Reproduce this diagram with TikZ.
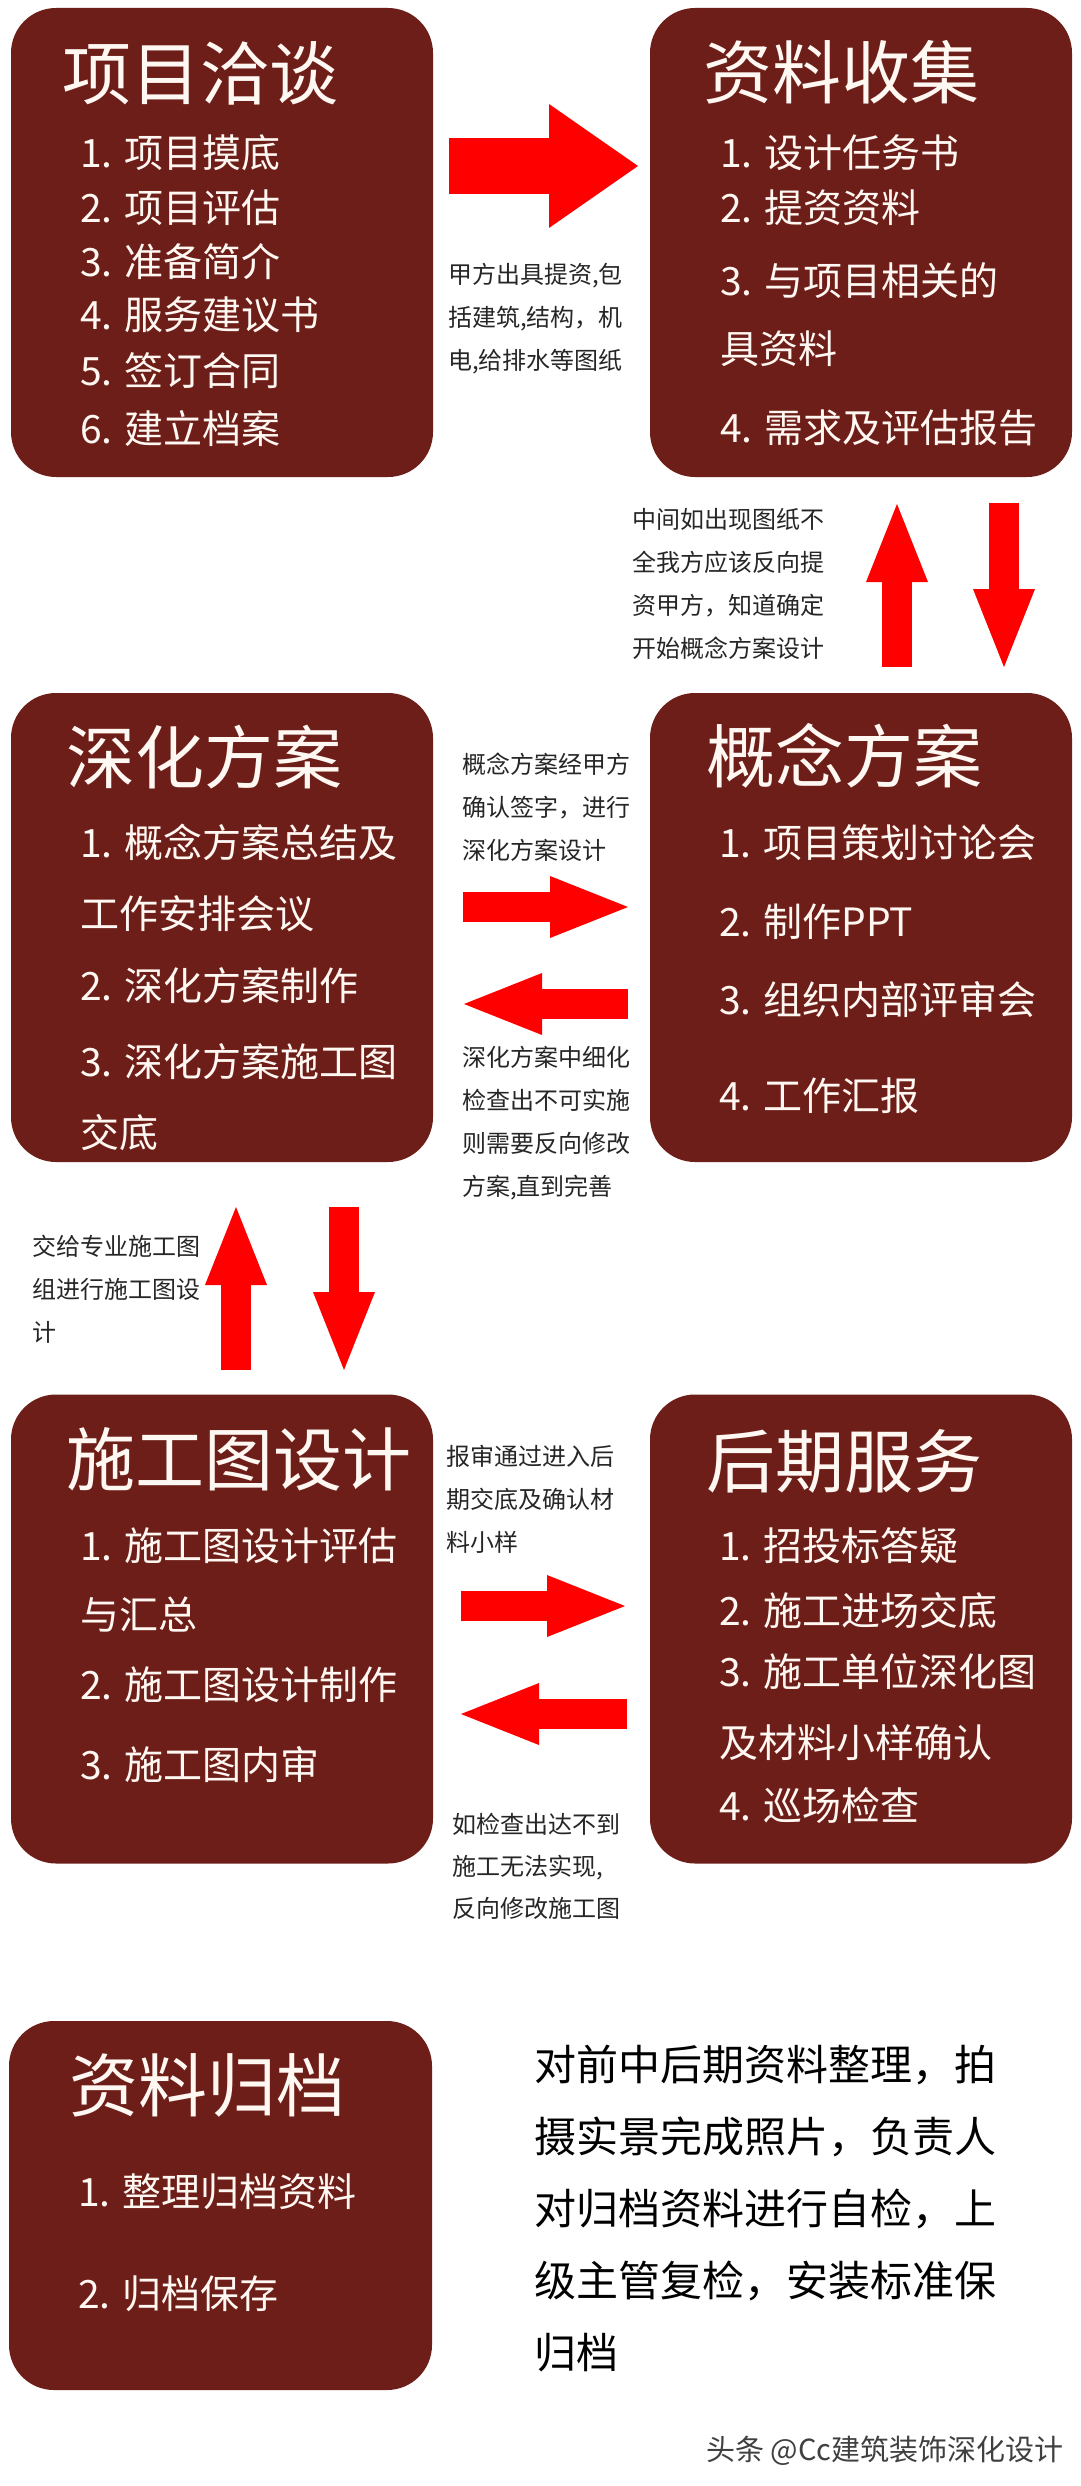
\documentclass[tikz,border=0pt]{standalone}
\usepackage{fontspec}
\setmainfont{Noto Sans CJK SC}
\usepackage{tikz}
\usetikzlibrary{arrows.meta}
\definecolor{boxred}{RGB}{110,30,24}
\definecolor{boxtext}{RGB}{255,247,242}

\begin{document}
\begin{tikzpicture}[x=1pt,y=-1pt,
  stage/.style={fill=boxred, rounded corners=45pt, minimum width=422pt, minimum height=469pt, inner sep=0pt},
  stagetitle/.style={anchor=west, inner sep=0pt, text height=55.2pt, text depth=3.5pt, text=boxtext, font=\fontsize{69}{69}\selectfont},
  stageitem/.style={anchor=west, inner sep=0pt, text height=31.2pt, text depth=2pt, text=boxtext, font=\fontsize{39}{39}\selectfont},
  note/.style={anchor=north west, inner sep=0pt, align=left, text=black!85, font=\fontsize{24}{43}\selectfont},
  flow/.style={red, line width=30pt, -{Triangle[length=78pt, width=62pt, line width=0pt]}}
]
  \fill[white] (0,0) rectangle (1080,2486);
  \useasboundingbox (0,0) rectangle (1080,2486);

  \node[stage] (xmqt) at (222,242.5) {};
  \node[stage] (zlsj) at (861,242.5) {};
  \node[stage] (shfa) at (222,927.5) {};
  \node[stage] (gnfa) at (861,927.5) {};
  \node[stage] (sgtsj) at (222,1629) {};
  \node[stage] (hqfw) at (861,1629) {};
  \node[stage, minimum width=423pt, minimum height=369pt] (zlgd) at (220.5,2205.5) {};

  \node[stagetitle] (xmqt-t) at (62,74) {项目洽谈};
  \foreach \y/\t [count=\i] in {153/1. 项目摸底, 208/2. 项目评估, 262/3. 准备简介, 315/4. 服务建议书, 371/5. 签订合同, 429/6. 建立档案}
    \node[stageitem] (xmqt-\i) at (80,\y) {\t};

  \node[stagetitle] (zlsj-t) at (703,73) {资料收集};
  \foreach \y/\t [count=\i] in {153/1. 设计任务书, 208/2. 提资资料, 281/3. 与项目相关的, 349/具资料, 428/4. 需求及评估报告}
    \node[stageitem] (zlsj-\i) at (720,\y) {\t};

  \node[stagetitle] (shfa-t) at (66,758) {深化方案};
  \foreach \y/\t [count=\i] in {843/1. 概念方案总结及, 914/工作安排会议, 986/2. 深化方案制作, 1062/3. 深化方案施工图, 1133/交底}
    \node[stageitem] (shfa-\i) at (80,\y) {\t};

  \node[stagetitle] (gnfa-t) at (706,757) {概念方案};
  \foreach \y/\t [count=\i] in {843/1. 项目策划讨论会, 922/2. 制作PPT, 1000/3. 组织内部评审会, 1096/4. 工作汇报}
    \node[stageitem] (gnfa-\i) at (719,\y) {\t};

  \node[stagetitle] (sgtsj-t) at (66,1460) {施工图设计};
  \foreach \y/\t [count=\i] in {1546/1. 施工图设计评估, 1615/与汇总, 1685/2. 施工图设计制作, 1765/3. 施工图内审}
    \node[stageitem] (sgtsj-\i) at (80,\y) {\t};

  \node[stagetitle] (hqfw-t) at (706,1462) {后期服务};
  \foreach \y/\t [count=\i] in {1546/1. 招投标答疑, 1611/2. 施工进场交底, 1672/3. 施工单位深化图, 1743/及材料小样确认, 1806/4. 巡场检查}
    \node[stageitem] (hqfw-\i) at (719,\y) {\t};

  \node[stagetitle] (zlgd-t) at (69,2086) {资料归档};
  \foreach \y/\t [count=\i] in {2192/1. 整理归档资料, 2294/2. 归档保存}
    \node[stageitem] (zlgd-\i) at (78,\y) {\t};

  \coordinate (r1a) at (449,166);  \coordinate (r1b) at (638,166);
  \coordinate (u1a) at (897,667);  \coordinate (u1b) at (897,504);
  \coordinate (d1a) at (1004,503); \coordinate (d1b) at (1004,667);
  \coordinate (r2a) at (463,907);  \coordinate (r2b) at (628,907);
  \coordinate (l2a) at (628,1004); \coordinate (l2b) at (464,1004);
  \coordinate (u2a) at (236,1370); \coordinate (u2b) at (236,1207);
  \coordinate (d2a) at (344,1207); \coordinate (d2b) at (344,1370);
  \coordinate (r3a) at (461,1606); \coordinate (r3b) at (625,1606);
  \coordinate (l3a) at (627,1714); \coordinate (l3b) at (461,1714);

  \draw[flow, line width=55pt, -{Triangle[length=89pt, width=124pt, line width=0pt]}] (r1a) -- (r1b);
  \draw[flow] (u1a) -- (u1b);
  \draw[flow] (d1a) -- (d1b);
  \draw[flow] (r2a) -- (r2b);
  \draw[flow] (l2a) -- (l2b);
  \draw[flow] (u2a) -- (u2b);
  \draw[flow] (d2a) -- (d2b);
  \draw[flow] (r3a) -- (r3b);
  \draw[flow] (l3a) -- (l3b);

  \node[note] (n1) at (448,263) {甲方出具提资,包\\括建筑,结构，机\\电,给排水等图纸};
  \node[note] (n2) at (632,508) {中间如出现图纸不\\全我方应该反向提\\资甲方，知道确定\\开始概念方案设计};
  \node[note] (n3) at (462,753) {概念方案经甲方\\确认签字，进行\\深化方案设计};
  \node[note] (n4) at (462,1046) {深化方案中细化\\检查出不可实施\\则需要反向修改\\方案,直到完善};
  \node[note] (n5) at (32,1235) {交给专业施工图\\组进行施工图设\\计};
  \node[note] (n6) at (446,1445) {报审通过进入后\\期交底及确认材\\料小样};
  \node[note, font=\fontsize{24}{42}\selectfont] (n7) at (452,1813) {如检查出达不到\\施工无法实现,\\反向修改施工图};

  \node[anchor=north west, inner sep=0pt, align=left, font=\fontsize{42}{72}\selectfont] (gdsm) at (534,2045)
    {对前中后期资料整理，拍\\摄实景完成照片，负责人\\对归档资料进行自检，上\\级主管复检，安装标准保\\归档};

  \node[anchor=west, inner sep=0pt, text height=23pt, text depth=1.5pt, text=black!75, font=\fontsize{29}{29}\selectfont] (sy) at (706,2450) {头条 @Cc建筑装饰深化设计};
\end{tikzpicture}
\end{document}
